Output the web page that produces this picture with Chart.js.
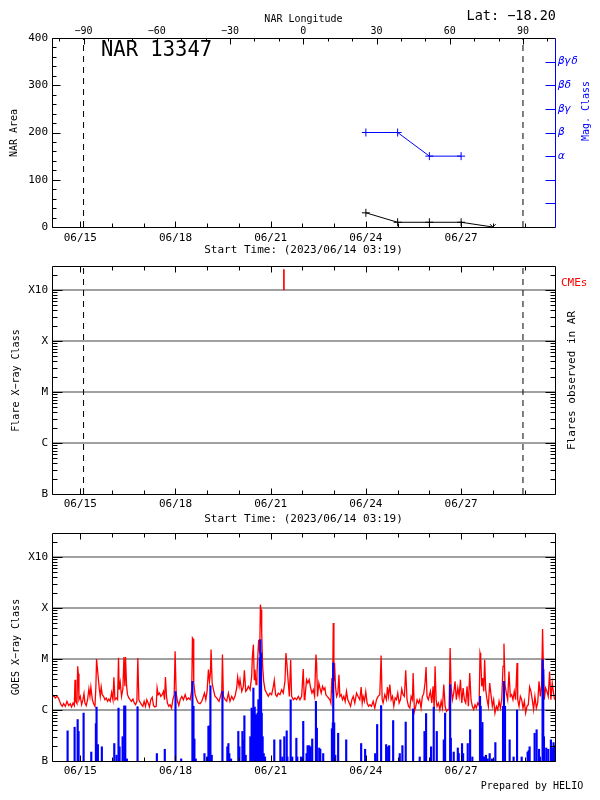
<!DOCTYPE html>
<html>
<head>
<meta charset="utf-8">
<script src="https://cdn.jsdelivr.net/npm/chart.js@4/dist/chart.umd.min.js"></script>
<style>
  html, body { margin: 0; padding: 0; background: #fff; }
  #wrap { position: relative; width: 600px; height: 800px; }
  canvas { position: absolute; left: 0; display: block; }
</style>
</head>
<body>
<div id="wrap">
  <canvas id="nar" width="600" height="262" style="top:0"></canvas>
  <canvas id="flares" width="600" height="262" style="top:262px"></canvas>
  <canvas id="goes" width="600" height="276" style="top:524px"></canvas>
</div>
<script>
// --- data ---
const START = Date.UTC(2023, 5, 14, 3, 19); // Start Time: 2023/06/14 03:19
const toHours = s => (Date.parse(s.replace(' ', 'T') + ':00Z') - START) / 3.6e6;

const timeRange = [-0.7, 379.7]; // hours since start
const dateTicks = ['2023-06-15 00:00', '2023-06-18 00:00', '2023-06-21 00:00', '2023-06-24 00:00', '2023-06-27 00:00'];
const dateLabels = ['06/15', '06/18', '06/21', '06/24', '06/27'];

// NAR longitude (top axis) and limb crossings
const lonTicks = [-90, -60, -30, 0, 30, 60, 90];
const lonAtStart = -102.55;
const lonRate = 13.0 / 24; // deg per hour
const limbLon = [-90, 90];

// NAR 13347
const narDates = ['2023-06-24 00:00', '2023-06-25 00:00', '2023-06-26 00:00', '2023-06-27 00:00', '2023-06-28 00:00'];
const narArea = [30, 10, 10, 10, 0];
const areaTicks = [0, 100, 200, 300, 400];
const magDates = ['2023-06-24 00:00', '2023-06-25 00:00', '2023-06-26 00:00', '2023-06-27 00:00'];
const magClass = ['β', 'β', 'α', 'α'];
const magLabels = ['', '', '', 'α', 'β', 'βγ', 'βδ', 'βγδ'];

// X-ray classes
const classLabels = ['B', 'C', 'M', 'X', 'X10'];
const classFlux = [1e-7, 1e-6, 1e-5, 1e-4, 1e-3];
const fluxMax = 2.95e-3;

const cmeDates = ['2023-06-21 10:00'];

// GOES, [hours since start, flux in 1e-6 W/m^2]
const goesLong = [
  [0,1.80],[0.6,1.91],[1.8,1.72],[3.1,1.85],[4.3,1.69],[5.1,1.48],[6.1,1.27],[7.1,1.18],[8.1,1.33],[9.4,1.18],
  [10.6,1.48],[11.9,1.22],[13.1,1.33],[14.1,1.15],[15.2,1.37],[16.2,1.22],[16.7,3.93],[17.2,1.48],[18.2,1.33],[18.7,7.2],
  [19.2,5.16],[19.7,1.59],[20.7,1.85],[21.7,1.27],[22.7,1.59],[23.5,2.09],[24.2,1.37],[25.2,1.22],[26.2,1.59],[27.2,2.58],
  [28.0,1.85],[28.7,2.82],[29.8,1.59],[30.8,1.33],[31.8,1.18],[32.5,2.91],[33.0,10.0],[33.5,7.2],[34.3,4.24],[35.0,2.70],
  [35.8,1.85],[36.5,2.82],[37.3,2.0],[38.3,1.85],[39.3,1.59],[40.3,1.72],[41.3,1.48],[42.3,1.64],[43.3,1.48],[44.4,2.22],
  [45.4,1.59],[46.1,4.37],[46.9,1.59],[47.9,1.72],[48.9,1.59],[49.6,10.6],[50.1,2.5],[50.9,3.48],[51.9,1.85],[52.9,2.58],
  [53.7,10.9],[54.4,2.91],[54.9,10.9],[55.7,3.0],[56.4,2.0],[57.4,1.72],[58.4,1.59],[59.4,1.48],[60.5,1.64],[61.5,1.37],
  [62.5,1.27],[63.5,1.48],[64.2,10.5],[65.0,1.59],[66.0,1.41],[67.0,1.27],[68.0,1.18],[69.0,1.48],[70.0,1.18],[71.0,1.59],
  [72.0,1.37],[73.0,1.15],[74.0,1.59],[75.1,1.77],[76.1,1.22],[77.1,1.15],[78.1,1.18],[78.8,2.70],[79.6,2.0],[80.6,2.15],
  [81.6,1.85],[82.6,2.0],[83.6,2.32],[84.4,1.59],[85.1,4.44],[85.9,1.85],[86.6,1.37],[87.6,1.18],[88.6,1.27],[89.7,1.09],
  [90.7,1.59],[91.7,2.0],[92.4,14.1],[93.2,2.15],[94.2,1.48],[95.2,1.22],[96.2,1.59],[97.5,1.85],[98.7,1.59],[100.0,2.0],
  [101.2,1.59],[102.5,1.72],[103.8,1.59],[105.0,2.5],[105.5,25.8],[106.0,24.6],[106.5,3.38],[107.5,2.0],[108.8,1.59],[110.0,1.37],
  [111.3,1.33],[112.6,1.48],[113.8,1.85],[114.6,2.15],[115.6,1.59],[116.6,2.32],[117.6,6.2],[118.4,3.65],[119.1,5.3],[119.6,15.3],
  [120.4,3.38],[121.4,2.5],[122.6,1.85],[123.9,1.72],[124.6,1.59],[125.6,1.48],[126.7,1.85],[127.7,2.32],[128.2,12.2],[128.9,1.85],
  [130.2,1.59],[131.4,1.48],[132.7,2.15],[133.9,1.48],[135.2,1.85],[136.5,1.59],[137.7,1.85],[139.0,2.70],[139.7,4.44],[140.8,2.91],
  [141.5,3.93],[142.8,2.32],[144.0,2.91],[144.8,6.0],[145.8,2.32],[146.8,2.5],[147.8,2.91],[149.1,2.5],[150.3,4.57],[150.8,10.5],
  [151.6,19.1],[152.3,3.93],[152.8,6.18],[153.6,3.14],[154.3,4.92],[154.8,9.7],[155.6,23.9],[156.4,12.9],[156.9,116],[157.4,92.5],
  [157.9,32.3],[158.6,7.2],[159.4,3.65],[160.4,2.5],[161.6,2.15],[162.9,1.85],[164.2,2.15],[165.4,2.0],[166.7,2.91],[167.4,3.82],
  [168.4,2.0],[169.4,1.85],[170.4,2.15],[171.7,2.0],[173.0,2.5],[174.2,2.15],[175.5,3.65],[176.2,13.1],[177.0,7.75],[178.0,3.38],
  [178.8,1.85],[179.8,9.7],[180.5,1.85],[181.8,1.59],[183.0,1.72],[184.3,1.59],[185.6,1.85],[186.8,1.59],[188.1,1.85],[189.3,6.35],
  [190.1,1.59],[190.6,1.72],[191.8,3.93],[192.8,3.38],[193.8,3.93],[194.9,2.70],[195.9,2.15],[196.9,2.5],[197.9,1.85],[198.9,12.2],
  [199.4,8.35],[200.1,1.85],[201.1,3.38],[201.9,2.70],[202.9,2.15],[203.9,2.91],[204.9,2.5],[205.7,2.70],[206.4,2.0],[207.4,1.85],
  [208.4,1.72],[209.5,1.59],[210.2,1.37],[211.0,4.24],[211.5,2.15],[212.0,50.8],[212.5,3.65],[213.0,8.35],[213.7,2.91],[214.5,1.85],
  [215.5,2.15],[216.3,4.92],[217.0,1.85],[218.0,2.0],[219.0,1.59],[220.0,1.85],[221.0,1.48],[222.0,2.32],[223.0,1.59],[224.1,1.37],
  [225.1,1.18],[226.1,1.59],[227.1,1.85],[228.3,1.37],[229.6,2.15],[230.8,1.85],[232.1,1.59],[233.1,2.82],[233.9,1.37],[234.6,1.85],
  [235.6,1.48],[236.6,2.28],[237.6,1.37],[238.7,1.18],[239.7,1.27],[240.9,1.18],[242.2,1.48],[243.4,1.09],[244.7,1.59],[245.9,1.85],
  [247.2,2.0],[248.2,11.7],[249.0,1.59],[249.7,1.37],[251.0,2.0],[252.2,1.59],[253.0,2.82],[253.8,1.85],[254.8,3.14],[255.8,1.59],
  [256.8,1.85],[257.8,1.18],[258.8,1.72],[259.8,1.59],[260.8,2.15],[261.8,1.37],[262.8,1.59],[263.8,2.58],[264.8,2.0],[265.8,1.85],
  [266.8,6.0],[267.8,1.59],[268.9,1.18],[269.9,1.09],[270.9,1.85],[271.9,1.59],[272.4,5.31],[273.4,0.94],[274.4,1.18],[275.4,1.59],
  [276.4,1.37],[277.4,1.59],[278.4,1.09],[279.4,1.85],[280.4,2.09],[281.4,3.38],[282.2,6.96],[282.9,1.85],[283.9,1.59],[285.5,2.32],
  [286.5,1.37],[287.5,2.91],[288.3,1.02],[289.0,7.18],[289.8,1.59],[290.5,1.18],[291.6,1.37],[292.6,1.02],[293.6,1.48],[294.6,1.09],
  [295.6,3.14],[296.6,1.18],[297.6,0.94],[298.6,1.02],[299.6,1.02],[300.4,16.4],[301.1,2.91],[302.1,1.59],[303.1,2.15],[304.1,3.65],
  [305.1,1.59],[306.2,2.70],[307.2,1.85],[308.2,3.93],[309.2,1.37],[310.2,2.70],[311.2,1.59],[312.2,1.37],[313.2,2.91],[314.2,1.18],
  [315.2,5.31],[316.2,1.59],[317.2,1.18],[318.2,1.02],[319.2,1.27],[320.2,1.09],[321.3,1.37],[322.3,1.22],[323.0,13.1],[323.5,11.3],
  [324.3,2.91],[325.0,4.24],[325.8,2.32],[326.5,9.7],[327.3,2.5],[328.3,1.59],[329.3,1.18],[330.3,3.38],[331.3,2.0],[332.3,1.18],
  [333.3,1.59],[334.3,0.87],[335.4,1.18],[336.4,1.02],[337.4,1.48],[338.4,1.09],[339.4,1.59],[340.4,7.18],[341.1,20.0],[341.9,3.14],
  [342.9,2.15],[343.9,1.59],[344.9,5.7],[345.9,1.85],[346.9,2.0],[347.9,1.59],[348.9,2.32],[349.9,1.59],[351.0,8.35],[351.5,1.59],
  [352.5,1.18],[353.5,1.85],[354.5,1.59],[355.5,1.09],[356.5,1.48],[357.5,0.87],[358.5,1.18],[359.5,1.27],[360.5,2.82],[361.5,2.32],
  [362.5,1.59],[363.5,1.02],[364.5,1.85],[365.6,1.09],[366.6,1.37],[367.6,3.65],[368.6,1.85],[369.6,3.14],[370.3,38.7],[370.8,9.7],
  [371.6,1.59],[372.6,2.70],[373.6,2.32],[374.6,1.85],[375.6,5.7],[376.6,1.59],[377.6,3.38],[378.6,2.15],[379.4,1.59]
];
const goesShort = [
  [11.1,0.39],[16.4,0.46],[18.7,0.65],[19.4,0.38],[23.2,0.87],[29.0,0.15],[32.5,0.54],[33.0,1.14],[34.0,0.21],[37.0,0.19],
  [46.4,0.22],[48.1,0.13],[49.6,1.09],[50.4,0.19],[52.7,0.30],[53.9,1.2],[54.7,1.2],[55.9,0.11],[64.0,1.16],[78.6,0.14],
  [84.6,0.17],[92.7,2.3],[97.0,0.11],[105.5,3.65],[106.3,1.18],[107.0,0.27],[108.0,0.11],[114.6,0.14],[116.6,0.12],[117.6,0.48],
  [118.4,0.49],[119.1,3.0],[120.1,0.13],[128.2,2.32],[131.9,0.19],[132.7,0.22],[133.4,0.14],[134.7,0.11],[140.2,0.38],[141.0,0.19],
  [143.3,0.38],[144.0,0.26],[144.8,0.77],[145.8,0.13],[149.3,0.30],[150.3,1.09],[151.1,1.02],[151.6,2.7],[152.1,0.75],[152.6,1.14],
  [153.1,0.48],[153.6,0.81],[154.1,0.30],[154.8,0.87],[155.4,1.59],[155.9,1.55],[156.4,10.5],[156.9,23.9],[157.4,13.1],[157.9,0.87],
  [158.6,0.30],[159.4,0.14],[160.4,0.12],[167.4,0.26],[172.0,0.26],[173.5,0.12],[175.0,0.30],[176.8,0.39],[177.3,0.12],[179.8,1.59],
  [181.0,0.12],[184.1,0.28],[184.8,0.12],[187.6,0.12],[189.3,0.6],[191.8,0.14],[192.6,0.2],[193.8,0.2],[194.9,0.19],[196.1,0.27],
  [198.9,1.48],[199.6,0.44],[201.4,0.18],[202.2,0.17],[204.4,0.14],[211.0,0.43],[211.7,0.56],[212.0,8.35],[212.7,0.56],[213.5,0.13],
  [215.7,0.35],[221.8,0.26],[233.1,0.22],[236.1,0.17],[243.7,0.14],[245.2,0.52],[248.2,1.22],[252.0,0.21],[253.5,0.19],[254.3,0.2],
  [257.3,0.62],[262.3,0.14],[264.3,0.2],[266.8,0.58],[272.4,1.05],[277.4,0.12],[281.0,0.38],[282.2,0.85],[286.0,0.19],[288.0,1.14],
  [290.3,0.38],[295.6,0.26],[296.6,0.87],[300.4,3.14],[300.9,0.28],[303.1,0.15],[306.2,0.18],[306.9,0.14],[309.4,0.22],[310.2,0.14],
  [313.7,0.22],[315.5,0.41],[317.2,0.12],[323.0,1.85],[323.5,1.18],[324.0,0.44],[324.8,0.57],[325.5,0.12],[326.3,0.12],[327.5,0.13],
  [328.8,0.11],[330.3,0.14],[332.1,0.11],[334.6,0.23],[340.4,1.18],[341.1,3.65],[341.9,1.18],[345.4,0.26],[348.4,0.12],[351.0,1.0],
  [354.5,0.12],[359.0,0.15],[359.8,0.16],[360.5,0.19],[364.3,0.35],[365.8,0.41],[367.6,0.17],[368.3,0.12],[370.3,9.7],[370.8,6.2],
  [371.3,0.30],[373.1,0.18],[374.6,0.17],[376.6,0.26],[377.6,0.18],[378.6,0.23],[379.3,0.2]
];

// --- helpers ---
Chart.defaults.font.family = "'DejaVu Sans Mono', monospace";
Chart.defaults.font.size = 11;
Chart.defaults.color = '#000';

const FONT = "'DejaVu Sans Mono', monospace";
const CME_MARK = [1e-3, 2.5e-3]; // vertical extent of the CME tick
const lonAt = h => lonAtStart + h * lonRate;
const limbHours = limbLon.map(l => (l - lonAtStart) / lonRate);
const range = (a, b, step) => { const r = []; for (let v = a; v <= b + 1e-9; v += step) r.push(v); return r; };
const dayHours = range(toHours('2023-06-14 00:00'), timeRange[1], 24);
const logMinor = [];
classFlux.forEach(d => { for (let k = 2; k <= 9; k++) logMinor.push(d * k); });

// fixed axis box size, so every panel lines up
const boxSize = n => s => {
  if (s.isHorizontal()) s.height = n; else s.width = n;
  s.paddingLeft = s.paddingRight = s.paddingTop = s.paddingBottom = 0;
};
const fixedTicks = values => s => { s.ticks = values.map(v => ({ value: v })); };

function timeAxis(size, pad) {
  return {
    type: 'linear', position: 'bottom', bounds: 'data', offset: false,
    min: timeRange[0], max: timeRange[1],
    afterFit: boxSize(size),
    afterBuildTicks: fixedTicks(dateTicks.map(toHours)),
    ticks: { autoSkip: false, maxRotation: 0, padding: pad, callback: (v, i) => dateLabels[i] },
    grid: { display: false, drawTicks: false },
    border: { display: false }
  };
}

function classAxis() {
  return {
    type: 'logarithmic', position: 'left', bounds: 'data',
    min: classFlux[0], max: fluxMax,
    afterFit: boxSize(52),
    afterBuildTicks: fixedTicks(classFlux),
    ticks: { autoSkip: false, padding: 4, callback: (v, i) => classLabels[i] },
    grid: {
      drawTicks: false, lineWidth: 2,
      color: c => (c.tick && c.tick.value > classFlux[0] ? '#a0a0a0' : 'rgba(0,0,0,0)')
    },
    border: { display: false }
  };
}

// inward tick marks, frame and titles
function decor(spec) {
  return {
    id: 'decor',
    afterDatasetsDraw(chart) {
      const { ctx, chartArea: a } = chart;
      const L = Math.round(a.left) + 0.5, R = Math.round(a.right) + 0.5;
      const T = Math.round(a.top) + 0.5, B = Math.round(a.bottom) + 0.5;
      ctx.save();
      ctx.lineWidth = 1;
      spec.ticks.forEach(t => {
        const sc = chart.scales[t.scale];
        ctx.strokeStyle = t.color || '#000';
        ctx.beginPath();
        t.values.forEach(v => {
          if (v < sc.min || v > sc.max) return;
          const p = Math.round(sc.getPixelForValue(v)) + 0.5;
          t.sides.forEach(side => {
            if (side === 'bottom') { ctx.moveTo(p, B); ctx.lineTo(p, B - t.len); }
            else if (side === 'top') { ctx.moveTo(p, T); ctx.lineTo(p, T + t.len); }
            else if (side === 'left') { ctx.moveTo(L, p); ctx.lineTo(L + t.len, p); }
            else { ctx.moveTo(R, p); ctx.lineTo(R - t.len, p); }
          });
        });
        ctx.stroke();
      });
      const f = spec.frame;
      [['left', L, T, L, B], ['right', R, T, R, B], ['top', L, T, R, T], ['bottom', L, B, R, B]].forEach(([k, x1, y1, x2, y2]) => {
        ctx.strokeStyle = f[k];
        ctx.beginPath(); ctx.moveTo(x1, y1); ctx.lineTo(x2, y2); ctx.stroke();
      });
      spec.texts.forEach(t => {
        ctx.save();
        ctx.font = t.size + 'px ' + FONT;
        ctx.fillStyle = t.color || '#000';
        ctx.textAlign = t.align || 'center';
        ctx.textBaseline = 'middle';
        ctx.translate(t.x, t.y);
        if (t.vertical) ctx.rotate(-Math.PI / 2);
        ctx.fillText(t.text, 0, 0);
        ctx.restore();
      });
      ctx.restore();
    }
  };
}

const baseOptions = padding => ({
  responsive: false, animation: false, events: [],
  layout: { padding },
  plugins: { legend: { display: false }, tooltip: { enabled: false } }
});

// --- panel 1: NAR area and magnetic class ---
new Chart(document.getElementById('nar'), {
  type: 'line',
  data: {
    datasets: [
      {
        data: narDates.map((d, i) => ({ x: toHours(d), y: narArea[i] })),
        xAxisID: 'x', yAxisID: 'y',
        borderColor: '#000', borderWidth: 1,
        pointStyle: ['cross', 'cross', 'cross', 'cross', 'crossRot'],
        pointRadius: 4, pointBorderColor: '#000', pointBorderWidth: 1
      },
      {
        data: magDates.map((d, i) => ({ x: toHours(d), y: magLabels.indexOf(magClass[i]) })),
        xAxisID: 'x', yAxisID: 'y2',
        borderColor: '#0000ff', borderWidth: 1,
        pointStyle: 'cross', pointRadius: 4, pointBorderColor: '#0000ff', pointBorderWidth: 1
      },
      ...limbHours.map(h => ({
        data: [{ x: h, y: areaTicks[0] }, { x: h, y: areaTicks[areaTicks.length - 1] }],
        xAxisID: 'x', yAxisID: 'y',
        borderColor: '#000', borderWidth: 1, borderDash: [6, 5], pointRadius: 0
      }))
    ]
  },
  options: {
    ...baseOptions(0),
    scales: {
      x: timeAxis(35, 5),
      x2: {
        type: 'linear', position: 'top', bounds: 'data',
        min: lonAt(timeRange[0]), max: lonAt(timeRange[1]),
        afterFit: boxSize(38),
        afterBuildTicks: fixedTicks(lonTicks),
        ticks: { autoSkip: false, maxRotation: 0, padding: 1, font: { size: 10 },
                 callback: v => String(v).replace('-', '\u2212') },
        grid: { display: false, drawTicks: false },
        border: { display: false }
      },
      y: {
        type: 'linear', position: 'left', bounds: 'data',
        min: areaTicks[0], max: areaTicks[areaTicks.length - 1],
        afterFit: boxSize(52),
        afterBuildTicks: fixedTicks(areaTicks),
        ticks: { autoSkip: false, padding: 4 },
        grid: { display: false, drawTicks: false },
        border: { display: false }
      },
      y2: {
        type: 'linear', position: 'right', bounds: 'data',
        min: 0, max: magLabels.length,
        afterFit: boxSize(45),
        afterBuildTicks: fixedTicks([3, 4, 5, 6, 7]),
        ticks: { autoSkip: false, padding: 3, color: '#0000ff', font: { style: 'italic', size: 11 },
                 callback: v => magLabels[v] },
        grid: { display: false, drawTicks: false },
        border: { display: false }
      }
    }
  },
  plugins: [decor({
    ticks: [
      { scale: 'x', values: dayHours, sides: ['bottom'], len: 4 },
      { scale: 'x', values: dateTicks.map(toHours), sides: ['bottom'], len: 6 },
      { scale: 'x2', values: range(-100, 100, 10), sides: ['top'], len: 3 },
      { scale: 'x2', values: lonTicks, sides: ['top'], len: 6 },
      { scale: 'y', values: range(0, 400, 20), sides: ['left'], len: 4 },
      { scale: 'y', values: areaTicks, sides: ['left'], len: 8 },
      { scale: 'y2', values: [1, 2, 3, 4, 5, 6, 7], sides: ['right'], len: 10, color: '#0000ff' }
    ],
    frame: { left: '#000', top: '#000', bottom: '#000', right: '#0000ff' },
    texts: [
      { text: 'NAR Longitude', x: 303.5, y: 19, size: 10 },
      { text: 'Lat: \u221218.20', x: 556, y: 16, size: 13.5, align: 'right' },
      { text: 'NAR 13347', x: 101, y: 51, size: 20.5, align: 'left' },
      { text: 'Start Time: (2023/06/14 03:19)', x: 303.5, y: 250, size: 11 },
      { text: 'NAR Area', x: 14, y: 133, size: 10, vertical: true },
      { text: 'Mag. Class', x: 586.5, y: 111, size: 10, vertical: true, color: '#0000ff' }
    ]
  })]
});

// --- panel 2: flares observed in the region ---
new Chart(document.getElementById('flares'), {
  type: 'line',
  data: {
    datasets: [
      {
        type: 'bar',
        data: cmeDates.map(d => ({ x: toHours(d), y: CME_MARK })),
        backgroundColor: '#ff0000', borderWidth: 0, barThickness: 1, grouped: false
      },
      ...limbHours.map(h => ({
        data: [{ x: h, y: classFlux[0] }, { x: h, y: fluxMax }],
        borderColor: '#000', borderWidth: 1, borderDash: [6, 5], pointRadius: 0
      }))
    ]
  },
  options: {
    ...baseOptions({ left: 0, right: 45, top: 4, bottom: 0 }),
    scales: { x: timeAxis(30, 4), y: classAxis() }
  },
  plugins: [decor({
    ticks: [
      { scale: 'x', values: dayHours, sides: ['bottom', 'top'], len: 4 },
      { scale: 'x', values: dateTicks.map(toHours), sides: ['bottom', 'top'], len: 6 },
      { scale: 'y', values: logMinor, sides: ['left', 'right'], len: 5 },
      { scale: 'y', values: classFlux, sides: ['left', 'right'], len: 10 }
    ],
    frame: { left: '#000', top: '#000', bottom: '#000', right: '#000' },
    texts: [
      { text: 'Flare X\u2212ray Class', x: 16, y: 118.5, size: 10, vertical: true },
      { text: 'Flares observed in AR', x: 572, y: 118.5, size: 11, vertical: true },
      { text: 'CMEs', x: 561, y: 21.5, size: 11, align: 'left', color: '#ff0000' },
      { text: 'Start Time: (2023/06/14 03:19)', x: 303.5, y: 257.5, size: 11 }
    ]
  })]
});

// --- panel 3: GOES X-ray flux ---
new Chart(document.getElementById('goes'), {
  type: 'line',
  data: {
    datasets: [
      {
        data: goesLong.map(([h, v]) => ({ x: h, y: v * 1e-6 })),
        borderColor: '#ff0000', borderWidth: 1.3, pointRadius: 0, tension: 0, order: 1
      },
      {
        type: 'bar',
        data: goesShort.map(([h, v]) => ({ x: h, y: v * 1e-6 })),
        backgroundColor: '#0000ff', borderWidth: 0, barThickness: 1.5, grouped: false, order: 0
      }
    ]
  },
  options: {
    ...baseOptions({ left: 0, right: 45, top: 9, bottom: 0 }),
    scales: { x: timeAxis(39, 4), y: classAxis() }
  },
  plugins: [decor({
    ticks: [
      { scale: 'x', values: dayHours, sides: ['bottom', 'top'], len: 4 },
      { scale: 'x', values: dateTicks.map(toHours), sides: ['bottom', 'top'], len: 6 },
      { scale: 'y', values: logMinor, sides: ['left', 'right'], len: 5 },
      { scale: 'y', values: classFlux, sides: ['left', 'right'], len: 10 }
    ],
    frame: { left: '#000', top: '#000', bottom: '#000', right: '#000' },
    texts: [
      { text: 'GOES X\u2212ray Class', x: 16, y: 123, size: 10, vertical: true },
      { text: 'Prepared by HELIO', x: 532, y: 262.5, size: 10 }
    ]
  })]
});
</script>
</body>
</html>
